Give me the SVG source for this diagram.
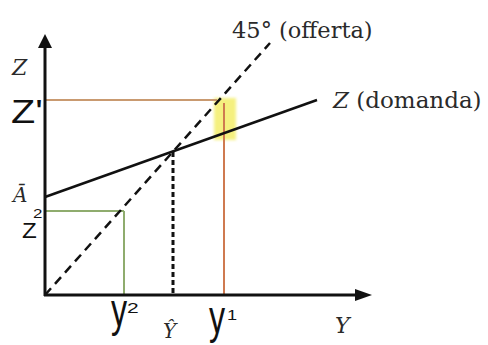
<svg xmlns="http://www.w3.org/2000/svg" width="488" height="345" viewBox="0 0 488 345">
<style>
.serif{font-family:"DejaVu Serif","Liberation Serif",serif;fill:#2a2a2a}
.it{font-style:italic}
.hand{font-family:"Liberation Sans","DejaVu Sans",sans-serif;fill:#111}
.axis{stroke:#111;stroke-width:3;fill:none}
</style>
<defs>
<filter id="blur" x="-30%" y="-30%" width="160%" height="160%"><feGaussianBlur stdDeviation="1.5"/></filter>
</defs>
<rect width="488" height="345" fill="#fff"/>
<g id="highlight">
<rect x="214" y="98" width="22" height="42" fill="#f2ec55" opacity="0.75" filter="url(#blur)"/>
</g>
<g id="connectors">
<line x1="45" y1="100" x2="217" y2="100" stroke="#c99a70" stroke-width="2"/>
<line x1="224" y1="103" x2="224" y2="295" stroke="#cf7a50" stroke-width="2"/>
<line x1="45" y1="211" x2="124" y2="211" stroke="#8fac6e" stroke-width="2"/>
<line x1="124" y1="211" x2="124" y2="295" stroke="#8fac6e" stroke-width="2"/>
<line x1="173" y1="152" x2="173" y2="293" stroke="#111" stroke-width="3" stroke-dasharray="5 3"/>
<line x1="45" y1="295" x2="270" y2="43" stroke="#111" stroke-width="2.5" stroke-dasharray="9 6"/>
<line x1="45" y1="197" x2="317" y2="100" stroke="#111" stroke-width="2.5"/>
</g>
<g id="axes">
<line class="axis" x1="45" y1="46" x2="45" y2="296"/>
<line class="axis" x1="44" y1="295" x2="358" y2="295"/>
<polygon points="45,34 38,48 52,48" fill="#111"/>
<polygon points="372,295 355,289 355,301" fill="#111"/>
</g>
<g id="labels">
<text class="serif" x="232" y="38" font-size="22.5">45° (offerta)</text>
<text class="serif" x="333" y="108" font-size="23"><tspan class="it">Z</tspan> (domanda)</text>
<text class="serif it" x="12" y="75" font-size="22">Z</text>
<text class="serif it" x="13" y="202" font-size="20">Ā</text>
<text class="serif it" x="163" y="338" font-size="20">Ŷ</text>
<text class="serif it" x="335" y="333" font-size="22">Y</text>
</g>
<g id="handwritten">
<text class="hand" transform="translate(11,123) scale(1.2,1)" font-size="33">Z'</text>
<text class="hand" transform="translate(22,238) scale(1.1,1)" font-size="22">Z</text>
<text class="hand" transform="translate(33,218) scale(1.3,1)" font-size="13">2</text>
<text class="hand" transform="translate(111,326) scale(0.7,1)" font-size="46">y</text>
<text class="hand" transform="translate(127,313) scale(1.5,1)" font-size="14">2</text>
<text class="hand" transform="translate(209,333) scale(0.7,1)" font-size="46">y</text>
<text class="hand" transform="translate(227,320) scale(1.3,1)" font-size="14">1</text>
</g>
</svg>
